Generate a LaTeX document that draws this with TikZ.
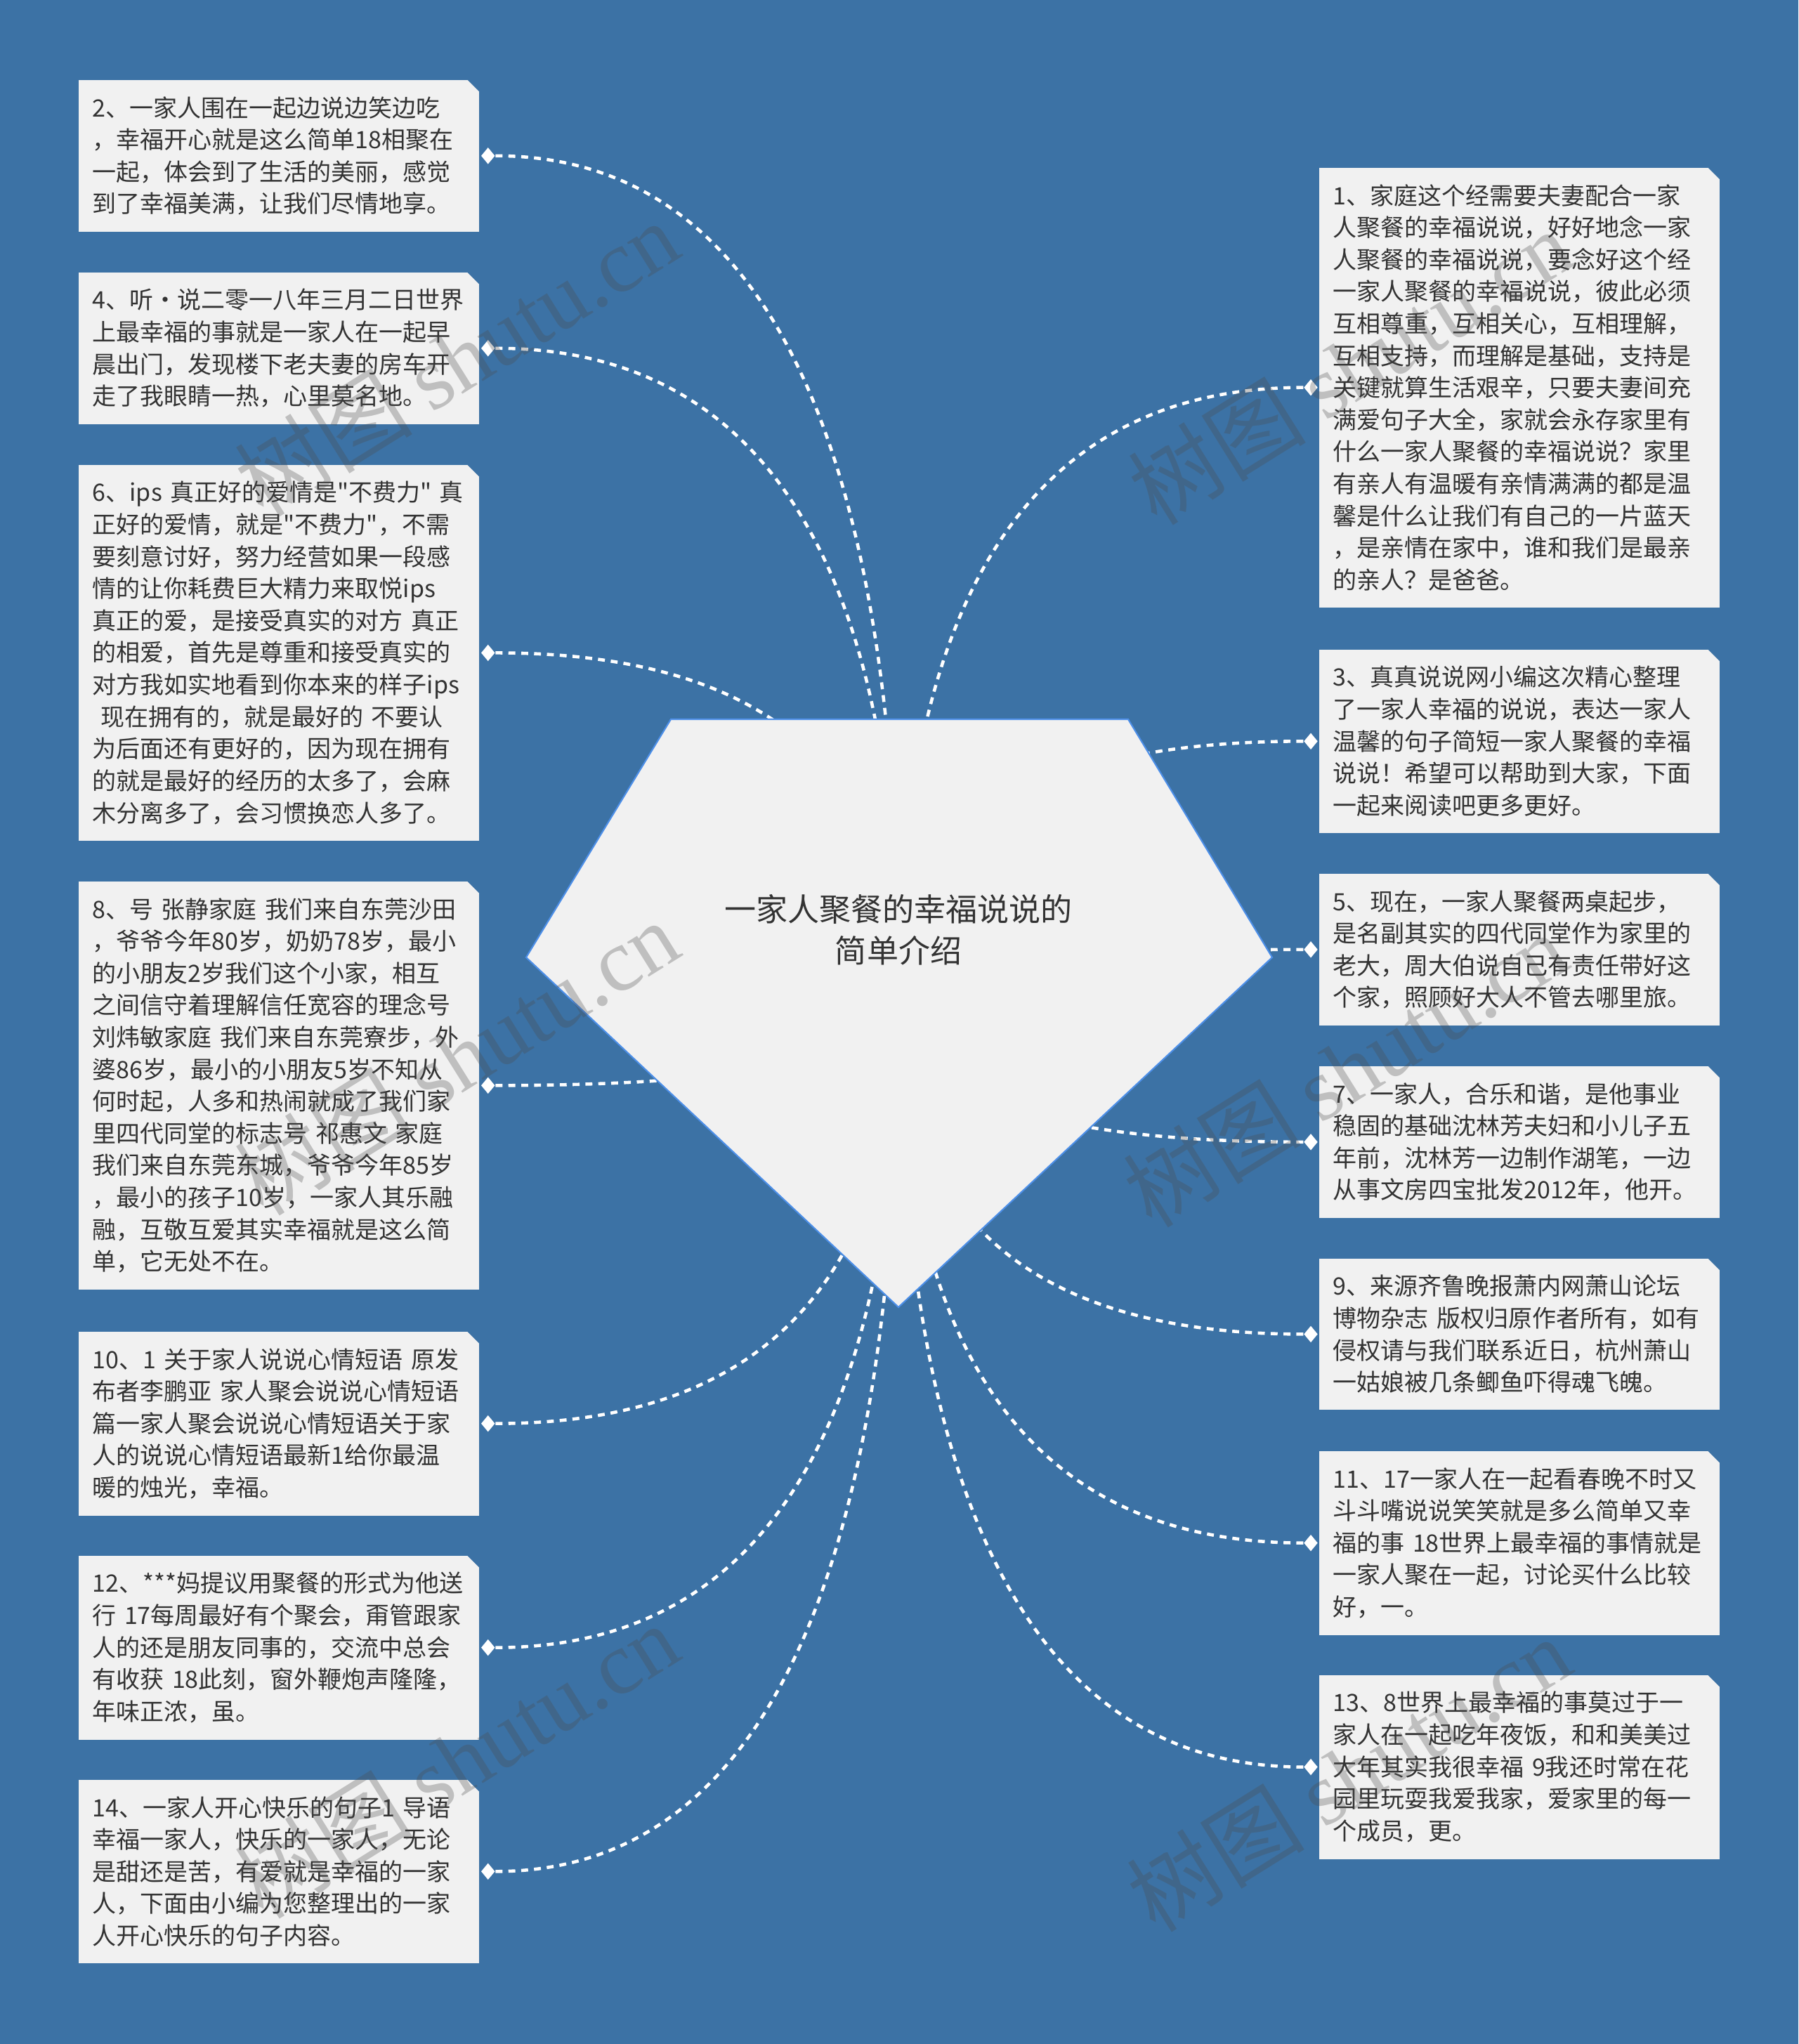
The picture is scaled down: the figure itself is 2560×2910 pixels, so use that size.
\documentclass[tikz,border=0pt]{standalone}
\usepackage{fontspec}
\setmainfont{Noto Sans CJK SC}[Ligatures=TeXOff]
\newfontfamily\latinmark{Liberation Serif}
\usetikzlibrary{shapes.geometric,calc}
\definecolor{bgblue}{HTML}{3C72A5}
\definecolor{cardgray}{HTML}{F1F1F1}
\definecolor{inkgray}{HTML}{333333}
\definecolor{edgeblue}{HTML}{4D8FE8}
\begin{document}
\begin{tikzpicture}[x=0.01cm, y=-0.01cm,
    card/.style={anchor=north west, fill=cardgray, text=inkgray, align=left,
        text width=5.3cm, inner xsep=0.2cm, inner ysep=0.235cm,
        font=\fontsize{9.67pt}{12.97pt}\selectfont},
    knot/.style={diamond, fill=white, inner sep=0pt, minimum width=0.2cm, minimum height=0.24cm},
    wire/.style={white, line width=1.3pt, dash pattern=on 2.8pt off 2.4pt},
    stamp/.style={rotate=32, text=black!70, opacity=0.3, font=\fontsize{36pt}{40pt}\selectfont}]
    \useasboundingbox (0,0) rectangle (2560,2910);
    \fill[bgblue] (0,0) rectangle (2560,2910);

    \node[card] (n2) at (111,113) {2、一家人围在一起边说边笑边吃\\，幸福开心就是这么简单18相聚在\\一起，体会到了生活的美丽，感觉\\到了幸福美满，让我们尽情地享。};
    \node[card] (n4) at (111,387) {4、听·说二零一八年三月二日世界\\上最幸福的事就是一家人在一起早\\晨出门，发现楼下老夫妻的房车开\\走了我眼睛一热，心里莫名地。};
    \node[card] (n6) at (111,661) {6、ips~真正好的爱情是"不费力"~真\\正好的爱情，就是"不费力"，不需\\要刻意讨好，努力经营如果一段感\\情的让你耗费巨大精力来取悦ips\\真正的爱，是接受真实的对方~真正\\的相爱，首先是尊重和接受真实的\\对方我如实地看到你本来的样子ips\\~现在拥有的，就是最好的~不要认\\为后面还有更好的，因为现在拥有\\的就是最好的经历的太多了，会麻\\木分离多了，会习惯换恋人多了。};
    \node[card] (n8) at (111,1254) {8、号~张静家庭~我们来自东莞沙田\\，爷爷今年80岁，奶奶78岁，最小\\的小朋友2岁我们这个小家，相互\\之间信守着理解信任宽容的理念号\\刘炜敏家庭~我们来自东莞寮步，外\\婆86岁，最小的小朋友5岁不知从\\何时起，人多和热闹就成了我们家\\里四代同堂的标志号~祁惠文~家庭\\我们来自东莞东城，爷爷今年85岁\\，最小的孩子10岁，一家人其乐融\\融，互敬互爱其实幸福就是这么简\\单，它无处不在。};
    \node[card] (n10) at (111,1895) {10、1~关于家人说说心情短语~原发\\布者李鹏亚~家人聚会说说心情短语\\篇一家人聚会说说心情短语关于家\\人的说说心情短语最新1给你最温\\暖的烛光，幸福。};
    \node[card] (n12) at (111,2214) {12、***妈提议用聚餐的形式为他送\\行~17每周最好有个聚会，甭管跟家\\人的还是朋友同事的，交流中总会\\有收获~18此刻，窗外鞭炮声隆隆，\\年味正浓，虽。};
    \node[card] (n14) at (111,2533) {14、一家人开心快乐的句子1~导语\\幸福一家人，快乐的一家人，无论\\是甜还是苦，有爱就是幸福的一家\\人，下面由小编为您整理出的一家\\人开心快乐的句子内容。};

    \node[card] (n1) at (1877,238) {1、家庭这个经需要夫妻配合一家\\人聚餐的幸福说说，好好地念一家\\人聚餐的幸福说说，要念好这个经\\一家人聚餐的幸福说说，彼此必须\\互相尊重，互相关心，互相理解，\\互相支持，而理解是基础，支持是\\关键就算生活艰辛，只要夫妻间充\\满爱句子大全，家就会永存家里有\\什么一家人聚餐的幸福说说？家里\\有亲人有温暖有亲情满满的都是温\\馨是什么让我们有自己的一片蓝天\\，是亲情在家中，谁和我们是最亲\\的亲人？是爸爸。};
    \node[card] (n3) at (1877,924) {3、真真说说网小编这次精心整理\\了一家人幸福的说说，表达一家人\\温馨的句子简短一家人聚餐的幸福\\说说！希望可以帮助到大家，下面\\一起来阅读吧更多更好。};
    \node[card] (n5) at (1877,1243) {5、现在，一家人聚餐两桌起步，\\是名副其实的四代同堂作为家里的\\老大，周大伯说自己有责任带好这\\个家，照顾好大人不管去哪里旅。};
    \node[card] (n7) at (1877,1517) {7、一家人，合乐和谐，是他事业\\稳固的基础沈林芳夫妇和小儿子五\\年前，沈林芳一边制作湖笔，一边\\从事文房四宝批发2012年，他开。};
    \node[card] (n9) at (1877,1791) {9、来源齐鲁晚报萧内网萧山论坛\\博物杂志~版权归原作者所有，如有\\侵权请与我们联系近日，杭州萧山\\一姑娘被几条鲫鱼吓得魂飞魄。};
    \node[card] (n11) at (1877,2065) {11、17一家人在一起看春晚不时又\\斗斗嘴说说笑笑就是多么简单又幸\\福的事~18世界上最幸福的事情就是\\一家人聚在一起，讨论买什么比较\\好，一。};
    \node[card] (n13) at (1877,2384) {13、8世界上最幸福的事莫过于一\\家人在一起吃年夜饭，和和美美过\\大年其实我很幸福~9我还时常在花\\园里玩耍我爱我家，爱家里的每一\\个成员，更。};

    \foreach \k in {1,...,14}
        \fill[bgblue] ([xshift=-0.18cm]n\k.north east) -- (n\k.north east) -- ([yshift=-0.18cm]n\k.north east) -- cycle;

    \foreach \k in {2,4,...,14}
        \node[knot] (d\k) at ($(n\k.east)+(12,0)$) {};
    \foreach \k in {1,3,...,13}
        \node[knot] (d\k) at ($(n\k.west)+(-11,0)$) {};

    \coordinate (hub) at (1280,1415);
    \foreach \k in {1,...,14}
        \draw[wire] (d\k) .. controls ($(d\k)!2/3!(d\k -| hub)$) and ($(hub)!2/3!(d\k -| hub)$) .. (hub);

    \filldraw[fill=cardgray, draw=edgeblue, line width=0.6pt]
        (955,1024) -- (1606,1024) -- (1811,1363) -- (1279,1861) -- (749,1363) -- cycle;
    \node[align=center, text=inkgray, font=\fontsize{12.8pt}{16.8pt}\selectfont] (root) at (1279,1324)
        {一家人聚餐的幸福说说的\\简单介绍};

    \foreach \wx/\wy in {650/510, 1922/522, 650/1505, 1915/1522, 650/2506, 1920/2525}
        \node[stamp] at (\wx,\wy) {树图~{\latinmark shutu.cn}};
\end{tikzpicture}
\end{document}
